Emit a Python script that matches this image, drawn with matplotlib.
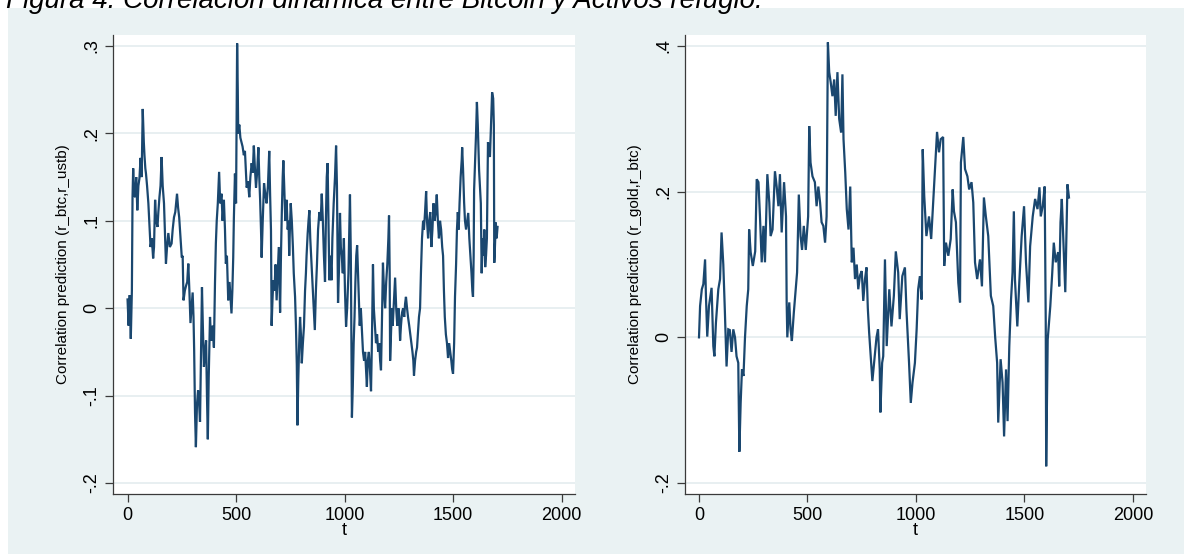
import matplotlib
matplotlib.use("Agg")
import matplotlib.pyplot as plt
from matplotlib.patches import Rectangle

# ---- data (t, dynamic correlation) ----
t_ustb = [0, 5, 10, 15, 20, 23, 26, 30, 35, 40, 45, 50, 55, 60, 65, 70, 75, 78, 82, 85,
          90, 96, 100, 106, 112, 118, 122, 127, 132, 138, 142, 147, 152, 157, 162, 168, 172, 177, 182, 188,
          195, 203, 208, 214, 220, 228, 233, 238, 244, 250, 254, 258, 264, 270, 275, 280, 285, 290, 295, 300,
          304, 307, 311, 315, 320, 325, 330, 334, 338, 343, 347, 352, 357, 362, 366, 370, 374, 380, 384, 388,
          393, 398, 403, 407, 411, 416, 422, 427, 433, 438, 444, 449, 453, 458, 464, 470, 475, 479, 483, 487,
          490, 495, 500, 505, 508, 510, 515, 520, 526, 530, 536, 541, 545, 549, 555, 561, 566, 572, 577, 582,
          587, 592, 597, 603, 607, 611, 615, 618, 623, 629, 635, 641, 647, 653, 657, 661, 664, 668, 672, 677,
          682, 687, 692, 697, 703, 707, 711, 715, 718, 722, 727, 733, 738, 742, 745, 748, 752, 757, 762, 766,
          772, 776, 780, 783, 787, 791, 795, 799, 803, 808, 813, 818, 822, 825, 830, 834, 838, 842, 846, 850,
          854, 858, 863, 868, 873, 878, 884, 890, 895, 900, 905, 910, 914, 918, 922, 926, 930, 935, 940, 944,
          950, 956, 961, 965, 970, 975, 979, 983, 987, 992, 997, 1002, 1007, 1012, 1018, 1025, 1029, 1032, 1034, 1038,
          1042, 1046, 1050, 1054, 1058, 1062, 1066, 1070, 1075, 1080, 1085, 1090, 1095, 1099, 1103, 1107, 1112, 1117, 1122, 1126,
          1131, 1135, 1140, 1145, 1150, 1155, 1160, 1164, 1168, 1172, 1177, 1182, 1187, 1192, 1197, 1202, 1205, 1208, 1210, 1214,
          1218, 1222, 1228, 1233, 1238, 1243, 1248, 1252, 1256, 1260, 1265, 1270, 1275, 1279, 1283, 1288, 1293, 1298, 1303, 1308,
          1313, 1317, 1320, 1325, 1330, 1334, 1338, 1343, 1348, 1352, 1357, 1362, 1366, 1371, 1376, 1380, 1385, 1390, 1395, 1400,
          1405, 1410, 1415, 1420, 1425, 1430, 1435, 1440, 1445, 1450, 1454, 1458, 1462, 1467, 1472, 1477, 1482, 1487, 1492, 1496,
          1500, 1505, 1509, 1514, 1518, 1522, 1526, 1530, 1535, 1540, 1542, 1546, 1551, 1555, 1560, 1565, 1570, 1575, 1580, 1585,
          1589, 1592, 1595, 1597, 1602, 1606, 1610, 1614, 1620, 1624, 1628, 1632, 1636, 1640, 1644, 1648, 1652, 1656, 1661, 1665,
          1670, 1675, 1680, 1685, 1688, 1690, 1693, 1697, 1701, 1705]
corr_ustb = [0.01, -0.02, 0.015, -0.035, 0.02, 0.127, 0.16, 0.13, 0.127, 0.15, 0.112, 0.14, 0.149, 0.172, 0.15, 0.228, 0.19, 0.175, 0.16, 0.154,
             0.14, 0.12, 0.1, 0.07, 0.08, 0.057, 0.07, 0.124, 0.1, 0.093, 0.11, 0.127, 0.14, 0.173, 0.14, 0.12, 0.09, 0.051, 0.07, 0.086,
             0.07, 0.074, 0.09, 0.104, 0.11, 0.131, 0.115, 0.104, 0.08, 0.058, 0.06, 0.009, 0.02, 0.026, 0.03, 0.051, 0.02, -0.017, 0.0, 0.018,
             -0.01, -0.048, -0.12, -0.159, -0.11, -0.094, -0.11, -0.13, -0.06, 0.024, -0.02, -0.067, -0.05, -0.037, -0.1, -0.15, -0.08, -0.01, -0.03, -0.037,
             -0.02, -0.045, 0.029, 0.074, 0.1, 0.12, 0.156, 0.12, 0.131, 0.1, 0.124, 0.09, 0.051, 0.06, 0.009, 0.03, 0.01, -0.006, 0.02, 0.058,
             0.103, 0.154, 0.12, 0.303, 0.25, 0.2, 0.21, 0.195, 0.189, 0.185, 0.175, 0.18, 0.16, 0.138, 0.145, 0.127, 0.15, 0.166, 0.155, 0.186,
             0.16, 0.138, 0.155, 0.184, 0.15, 0.124, 0.09, 0.058, 0.1, 0.143, 0.13, 0.12, 0.14, 0.18, 0.13, 0.089, -0.02, 0.01, 0.032, 0.02,
             0.05, 0.009, 0.04, 0.07, -0.005, 0.06, 0.11, 0.15, 0.169, 0.14, 0.1, 0.124, 0.09, 0.1, 0.06, 0.089, 0.12, 0.1, 0.07, 0.04,
             0.013, -0.02, -0.065, -0.134, -0.08, -0.04, -0.01, -0.03, -0.063, -0.04, -0.021, 0.02, 0.04, 0.06, 0.085, 0.1, 0.112, 0.08, 0.06, 0.04,
             0.02, 0.0, -0.025, 0.02, 0.051, 0.09, 0.11, 0.1, 0.131, 0.1, 0.06, 0.03, 0.1, 0.15, 0.166, 0.1, 0.032, 0.06, 0.032, 0.08,
             0.12, 0.15, 0.186, 0.14, 0.006, 0.05, 0.109, 0.07, 0.06, 0.04, 0.08, 0.02, -0.021, 0.0, 0.04, 0.13, 0.06, -0.06, -0.125, -0.09,
             -0.04, -0.01, 0.03, 0.06, 0.072, 0.04, 0.01, -0.02, 0.0, -0.025, -0.05, -0.06, -0.05, -0.07, -0.09, -0.06, -0.05, -0.07, -0.095, -0.04,
             0.05, 0.0, -0.02, -0.04, -0.03, -0.05, -0.04, -0.06, -0.071, -0.02, 0.052, 0.02, 0.0, 0.03, 0.05, 0.08, 0.106, 0.04, -0.06, -0.03,
             0.0, -0.02, 0.01, 0.035, 0.0, -0.02, 0.0, -0.01, -0.037, -0.02, -0.005, 0.0, -0.01, 0.005, 0.013, 0.0, -0.011, -0.02, -0.03, -0.04,
             -0.05, -0.06, -0.077, -0.06, -0.05, -0.045, -0.03, -0.01, 0.0, 0.04, 0.08, 0.1, 0.09, 0.11, 0.134, 0.1, 0.08, 0.1, 0.11, 0.07,
             0.09, 0.12, 0.1, 0.11, 0.13, 0.1, 0.08, 0.1, 0.09, 0.07, 0.06, 0.02, -0.01, -0.03, -0.04, -0.057, -0.04, -0.05, -0.06, -0.07,
             -0.075, -0.04, 0.013, 0.05, 0.09, 0.11, 0.09, 0.12, 0.15, 0.17, 0.184, 0.16, 0.121, 0.1, 0.09, 0.1, 0.109, 0.08, 0.06, 0.04,
             0.02, 0.013, 0.06, 0.135, 0.17, 0.2, 0.236, 0.21, 0.158, 0.14, 0.12, 0.04, 0.08, 0.06, 0.09, 0.047, 0.06, 0.08, 0.19, 0.18,
             0.173, 0.21, 0.247, 0.24, 0.21, 0.052, 0.07, 0.098, 0.08, 0.093]

t_gold = [0, 5, 13, 20, 28, 32, 38, 46, 58, 66, 71, 78, 89, 97, 104, 112, 119, 127, 135, 142,
          150, 158, 166, 173, 181, 186, 192, 198, 205, 212, 220, 227, 231, 238, 248, 259, 266, 274, 281, 289,
          297, 304, 315, 324, 330, 339, 350, 358, 366, 373, 381, 392, 401, 404, 407, 416, 422, 428, 437, 446,
          452, 460, 468, 475, 483, 492, 503, 508, 514, 523, 534, 542, 550, 558, 565, 573, 581, 588, 594, 600,
          607, 615, 623, 630, 638, 646, 655, 661, 666, 674, 681, 689, 697, 704, 712, 719, 727, 734, 742, 750,
          757, 765, 772, 778, 784, 790, 799, 810, 818, 825, 833, 836, 844, 849, 857, 865, 877, 887, 898, 907,
          918, 925, 937, 949, 956, 968, 976, 984, 995, 1003, 1010, 1018, 1026, 1031, 1038, 1048, 1060, 1070, 1081, 1091,
          1097, 1106, 1114, 1125, 1130, 1138, 1149, 1160, 1169, 1175, 1184, 1195, 1203, 1207, 1218, 1226, 1237, 1245, 1256, 1264,
          1272, 1282, 1295, 1304, 1313, 1322, 1333, 1345, 1356, 1365, 1374, 1379, 1390, 1399, 1406, 1415, 1422, 1430, 1438, 1445,
          1451, 1456, 1467, 1476, 1487, 1498, 1507, 1518, 1526, 1538, 1549, 1560, 1569, 1575, 1584, 1593, 1598, 1600, 1607, 1613,
          1619, 1628, 1635, 1644, 1655, 1660, 1666, 1672, 1679, 1688, 1694, 1698, 1705]
corr_gold = [0.0, 0.043, 0.066, 0.073, 0.107, 0.057, 0.001, 0.043, 0.068, -0.012, -0.026, 0.02, 0.066, 0.08, 0.144, 0.1, 0.038, -0.04, 0.011, 0.01,
             -0.02, 0.011, 0.0, -0.026, -0.035, -0.157, -0.09, -0.044, -0.053, 0.0, 0.043, 0.066, 0.148, 0.117, 0.098, 0.118, 0.217, 0.213, 0.166, 0.103,
             0.153, 0.103, 0.224, 0.185, 0.139, 0.148, 0.228, 0.207, 0.18, 0.224, 0.144, 0.213, 0.166, 0.048, 0.0, 0.048, 0.011, -0.005, 0.034, 0.066,
             0.089, 0.196, 0.139, 0.12, 0.153, 0.12, 0.166, 0.29, 0.24, 0.221, 0.213, 0.18, 0.207, 0.185, 0.158, 0.153, 0.13, 0.166, 0.405, 0.364,
             0.35, 0.331, 0.354, 0.304, 0.364, 0.3, 0.281, 0.361, 0.272, 0.226, 0.176, 0.148, 0.207, 0.103, 0.123, 0.08, 0.1, 0.066, 0.085, 0.091,
             0.05, 0.08, 0.096, 0.04, 0.007, -0.02, -0.06, -0.026, 0.0, 0.011, -0.044, -0.103, -0.035, -0.026, 0.107, -0.012, 0.066, 0.015, 0.057, 0.118,
             0.089, 0.025, 0.084, 0.096, 0.038, -0.035, -0.09, -0.062, -0.035, 0.011, 0.066, 0.084, 0.052, 0.258, 0.194, 0.139, 0.166, 0.135, 0.194, 0.249,
             0.282, 0.254, 0.272, 0.275, 0.098, 0.13, 0.112, 0.135, 0.203, 0.173, 0.158, 0.075, 0.048, 0.24, 0.275, 0.231, 0.221, 0.203, 0.213, 0.185,
             0.103, 0.08, 0.107, 0.07, 0.192, 0.166, 0.139, 0.057, 0.043, 0.0, -0.035, -0.117, -0.03, -0.062, -0.136, -0.044, -0.115, -0.012, 0.052, 0.089,
             0.173, 0.08, 0.015, 0.075, 0.139, 0.18, 0.103, 0.048, 0.125, 0.166, 0.19, 0.176, 0.206, 0.166, 0.18, 0.207, 0.02, -0.177, -0.003, 0.02,
             0.043, 0.089, 0.13, 0.103, 0.117, 0.07, 0.158, 0.19, 0.135, 0.062, 0.148, 0.21, 0.192]

x_ticks = [0, 500, 1000, 1500, 2000]
ustb_yticks = [-0.2, -0.1, 0.0, 0.1, 0.2, 0.3]
ustb_ylabels = ["-.2", "-.1", "0", ".1", ".2", ".3"]
gold_yticks = [-0.2, 0.0, 0.2, 0.4]
gold_ylabels = ["-.2", "0", ".2", ".4"]

bg_color = '#EAF2F3'
grid_color = '#E4ECEF'
line_color = '#1A476F'
axis_color = '#3a3a3a'

plt.rcParams['font.family'] = ['Liberation Sans', 'DejaVu Sans']

W, H = 1184, 554
fig = plt.figure(figsize=(W / 100, H / 100), dpi=100, facecolor='white')

# light graph region behind both panels
fig.patches.append(Rectangle((8 / W, 0), 1 - 8 / W, 1 - 8 / H, transform=fig.transFigure,
                             facecolor=bg_color, edgecolor='none', zorder=-10))

# caption, cut at the top edge like in the document
fig.text(6 / W, 1 - 7.5 / H, "Figura 4. Correlación dinámica entre Bitcoin y Activos refugio.",
         fontsize=20, style='italic', va='baseline', ha='left', zorder=5)


def panel(rect, t, vals, xlim, ylim, yticks, ylabels, ylabel):
    ax = fig.add_axes(rect)
    ax.set_facecolor('white')
    ax.plot(t, vals, color=line_color, linewidth=1.6, solid_joinstyle='miter')
    ax.set_xlim(*xlim)
    ax.set_ylim(*ylim)
    ax.set_xticks(x_ticks)
    ax.set_xticklabels([str(v) for v in x_ticks])
    ax.set_yticks(yticks)
    ax.set_yticklabels(ylabels, rotation=90, va='center')
    ax.grid(axis='y', color=grid_color, linewidth=1.2)
    ax.set_axisbelow(True)
    for s in ['top', 'right']:
        ax.spines[s].set_visible(False)
    for s in ['left', 'bottom']:
        ax.spines[s].set_color(axis_color)
        ax.spines[s].set_linewidth(0.9)
    ax.tick_params(axis='both', direction='out', length=6, width=0.9, color=axis_color,
                   labelsize=13, pad=3)
    ax.set_xlabel("t", fontsize=13, labelpad=-1)
    ax.set_ylabel(ylabel, fontsize=11, labelpad=10)
    return ax


panel([113 / W, 60 / H, 462 / W, 459 / H], t_ustb, corr_ustb, (-67, 2062), (-0.2126, 0.3126),
      ustb_yticks, ustb_ylabels, "Correlation prediction (r_btc,r_ustb)")
panel([685 / W, 60 / H, 461 / W, 459 / H], t_gold, corr_gold, (-64.5, 2060), (-0.215, 0.415),
      gold_yticks, gold_ylabels, "Correlation prediction (r_gold,r_btc)")

fig.savefig("out.png", dpi=100, facecolor='white')
